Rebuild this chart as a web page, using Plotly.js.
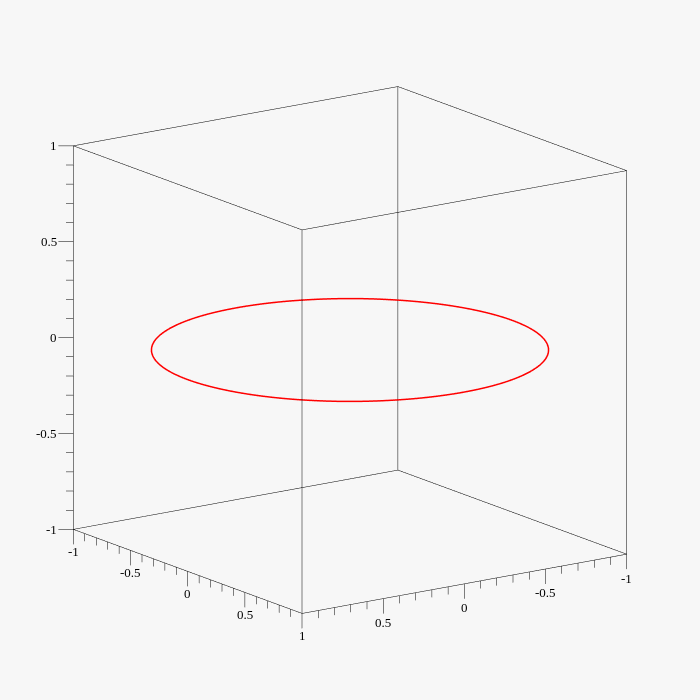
<!DOCTYPE html>
<html>
<head>
<meta charset="utf-8">
<script src="https://cdn.plot.ly/plotly-3.0.1.min.js"></script>
<style>html,body{margin:0;padding:0;background:#f7f7f7;}#chart{width:700px;height:700px;}</style>
</head>
<body>
<div id="chart"></div>
<script>
// ---- data ----
const boxRange = [-1, 1];
const tickValues = [-1, -0.9, -0.8, -0.7, -0.6, -0.5, -0.4, -0.3, -0.2, -0.1, 0, 0.1, 0.2, 0.3, 0.4, 0.5, 0.6, 0.7, 0.8, 0.9, 1];
const majorTickValues = [-1, -0.5, 0, 0.5, 1];
const majorTickLabels = ['-1', '-0.5', '0', '0.5', '1'];
const circleRadius = 1;
const circleHeight = 0;
const circleSamples = 240;

// ---- curve: x = r cos t, y = r sin t, z = const ----
const cx = [], cy = [], cz = [];
for (let i = 0; i <= circleSamples; i++) {
  const t = 2 * Math.PI * i / circleSamples;
  cx.push(circleRadius * Math.cos(t));
  cy.push(circleRadius * Math.sin(t));
  cz.push(circleHeight);
}

// ---- view ----
const viewDir = {x: 0.5564, y: 0.7896, z: 0.259};
const eyeDist = 3;
const sceneRange = [-1.1, 1.1];
const boxScale = 1.248;

const [lo, hi] = boxRange;
const traces = [];
function seg(p, q, color, width) {
  traces.push({type: 'scatter3d', mode: 'lines',
    x: [p[0], q[0]], y: [p[1], q[1]], z: [p[2], q[2]],
    line: {color: color, width: width}, hoverinfo: 'skip', showlegend: false});
}
// bounding box edges from the box range
for (const a of boxRange) for (const b of boxRange) {
  seg([lo, a, b], [hi, a, b], '#000000', 1);
  seg([a, lo, b], [a, hi, b], '#000000', 1);
  seg([a, b, lo], [a, b, hi], '#000000', 1);
}
// tick marks: major ones longer
const hx = viewDir.x, hy = viewDir.y, hn = Math.hypot(hx, hy);
const leftDir = [hy / hn, -hx / hn, 0];   // screen-left direction for vertical axis ticks
tickValues.forEach(v => {
  const major = majorTickValues.some(m => Math.abs(m - v) < 1e-9);
  const lenH = major ? 0.075 : 0.037;
  const lenV = major ? 0.078 : 0.040;
  seg([hi, lo, v], [hi + leftDir[0] * lenH, lo + leftDir[1] * lenH, v], '#000000', 1);
  seg([hi, v, lo], [hi, v, lo - lenV], '#000000', 1);
  seg([v, hi, lo], [v, hi, lo - lenV], '#000000', 1);
});
traces.push({type: 'scatter3d', mode: 'lines', x: cx, y: cy, z: cz,
  line: {color: '#ff0000', width: 3}, hoverinfo: 'skip', showlegend: false});

// ---- tick labels as real text (scene annotations) ----
const labelFont = {family: 'Liberation Serif', size: 13, color: '#000000'};
const annotations = [];
majorTickValues.forEach((v, i) => {
  annotations.push({x: hi, y: lo, z: v, text: majorTickLabels[i], showarrow: false,
    xanchor: 'right', yanchor: 'middle', xshift: -14, font: labelFont});
  annotations.push({x: hi, y: v, z: lo, text: majorTickLabels[i], showarrow: false,
    xanchor: 'center', yanchor: 'middle', yshift: -22, font: labelFont});
  if (v !== hi) {
    annotations.push({x: v, y: hi, z: lo, text: majorTickLabels[i], showarrow: false,
      xanchor: 'center', yanchor: 'middle', yshift: -24, font: labelFont});
  }
});

const axisCommon = {
  range: sceneRange, autorange: false,
  ticks: '', showticklabels: false,
  showgrid: false, zeroline: false, showline: false,
  showbackground: false, showspikes: false,
  title: {text: ''}
};

const layout = {
  width: 700, height: 700,
  paper_bgcolor: '#f7f7f7',
  margin: {l: 0, r: 0, t: 0, b: 0},
  showlegend: false,
  hovermode: false,
  scene: {
    domain: {x: [0, 1], y: [0, 1]},
    aspectmode: 'manual',
    aspectratio: {x: boxScale, y: boxScale, z: boxScale},
    bgcolor: '#f7f7f7',
    camera: {
      eye: {x: viewDir.x * eyeDist, y: viewDir.y * eyeDist, z: viewDir.z * eyeDist},
      center: {x: 0, y: 0, z: 0},
      up: {x: 0, y: 0, z: 1},
      projection: {type: 'orthographic'}
    },
    xaxis: Object.assign({}, axisCommon),
    yaxis: Object.assign({}, axisCommon),
    zaxis: Object.assign({}, axisCommon),
    annotations: annotations
  }
};

Plotly.newPlot('chart', traces, layout, {displayModeBar: false});
</script>
</body>
</html>
